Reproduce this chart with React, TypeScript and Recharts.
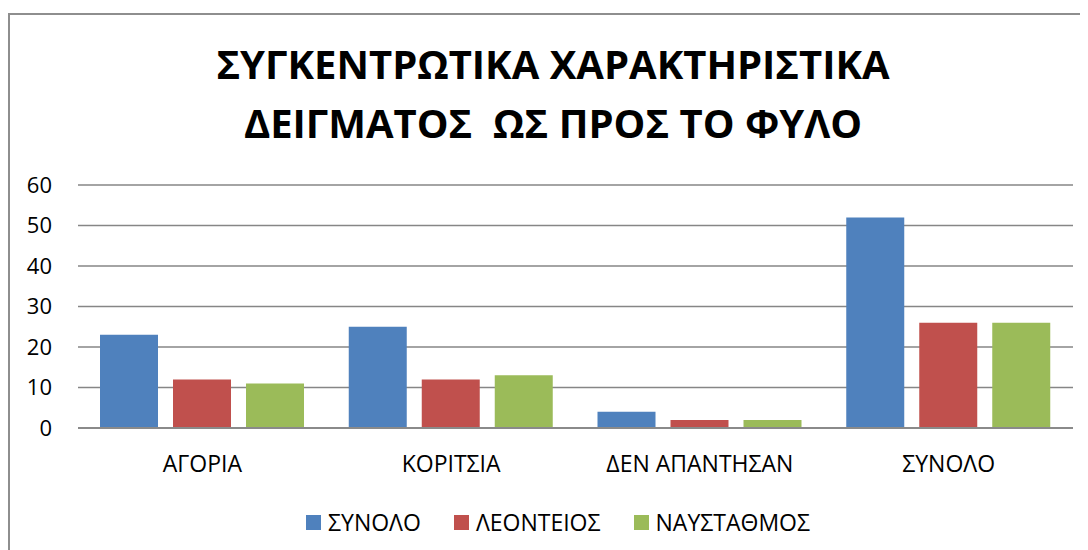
import React from "react";
import { BarChart, Bar, XAxis, YAxis, CartesianGrid, Legend } from "recharts";

const categories = ["ΑΓΟΡΙΑ", "ΚΟΡΙΤΣΙΑ", "ΔΕΝ ΑΠΑΝΤΗΣΑΝ", "ΣΥΝΟΛΟ"];
const synolo = [23, 25, 4, 52];
const leonteios = [12, 12, 2, 26];
const naystathmos = [11, 13, 2, 26];
const yTicks = [0, 10, 20, 30, 40, 50, 60];
const titleLines = ["ΣΥΓΚΕΝΤΡΩΤΙΚΑ ΧΑΡΑΚΤΗΡΙΣΤΙΚΑ", "ΔΕΙΓΜΑΤΟΣ  ΩΣ ΠΡΟΣ ΤΟ ΦΥΛΟ"];

const seriesKeys = ["s0", "s1", "s2"];
const seriesNames = ["ΣΥΝΟΛΟ", "ΛΕΟΝΤΕΙΟΣ", "ΝΑΥΣΤΑΘΜΟΣ"];
const colors = ["#4F81BD", "#C0504D", "#9BBB59"];

const data = categories.map((c, i) => ({
  name: c,
  s0: synolo[i],
  s1: leonteios[i],
  s2: naystathmos[i],
}));

const FONT = "'Open Sans', sans-serif";

const LegendContent = (props: any) => {
  const payload = [...(props.payload || [])].sort(
    (a: any, b: any) => seriesKeys.indexOf(a.dataKey) - seriesKeys.indexOf(b.dataKey)
  );
  return (
    <div style={{ display: "flex", justifyContent: "center", alignItems: "center", height: 40, fontFamily: FONT, fontSize: 23, color: "#000" }}>
      {payload.map((p: any, i: number) => (
        <div key={i} style={{ display: "flex", alignItems: "center", marginRight: i < payload.length - 1 ? 33 : 0 }}>
          <span style={{ display: "inline-block", width: 15, height: 15, background: p.color, marginRight: 7 }} />
          <span>{p.value}</span>
        </div>
      ))}
    </div>
  );
};

export default function App() {
  return (
    <div style={{ position: "relative", width: 1080, height: 542, background: "#fff", overflow: "hidden" }}>
      <div style={{ position: "absolute", left: 0, top: 5, width: 1200, height: 700, borderTop: "2px solid #8e8e8e", borderLeft: "2px solid #8e8e8e", boxSizing: "border-box" }} />
      <div style={{ position: "absolute", left: 0, top: 27, width: 1090, textAlign: "center", fontFamily: FONT, fontWeight: 700, fontSize: 40, lineHeight: "58.5px", color: "#000", whiteSpace: "pre" }}>
        {titleLines.map((t, i) => (
          <div key={i}>{t}</div>
        ))}
      </div>
      <BarChart
        width={1080}
        height={542}
        data={data}
        margin={{ top: 177, right: 15, left: 10, bottom: 8 }}
        barSize={58}
        barGap={15}
        style={{ position: "absolute", left: 0, top: 0 }}
      >
        <CartesianGrid vertical={false} stroke="#868686" strokeWidth={1.5} />
        <XAxis
          dataKey="name"
          height={74}
          tickLine={false}
          tickSize={0}
          tickMargin={28}
          axisLine={{ stroke: "#8a8a8a", strokeWidth: 2 }}
          tick={{ fill: "#000", fontSize: 23, fontFamily: FONT }}
          interval={0}
        />
        <YAxis
          domain={[0, 60]}
          ticks={yTicks}
          width={60}
          tickLine={false}
          axisLine={false}
          tickSize={0}
          tickMargin={26}
          tick={{ fill: "#000", fontSize: 22, fontFamily: FONT }}
        />
        <Legend
          verticalAlign="bottom"
          height={40}
          content={<LegendContent />}
          wrapperStyle={{ left: 0, width: 1100 }}
        />
        <Bar dataKey="s0" name={seriesNames[0]} fill={colors[0]} isAnimationActive={false} />
        <Bar dataKey="s1" name={seriesNames[1]} fill={colors[1]} isAnimationActive={false} />
        <Bar dataKey="s2" name={seriesNames[2]} fill={colors[2]} isAnimationActive={false} />
      </BarChart>
    </div>
  );
}
